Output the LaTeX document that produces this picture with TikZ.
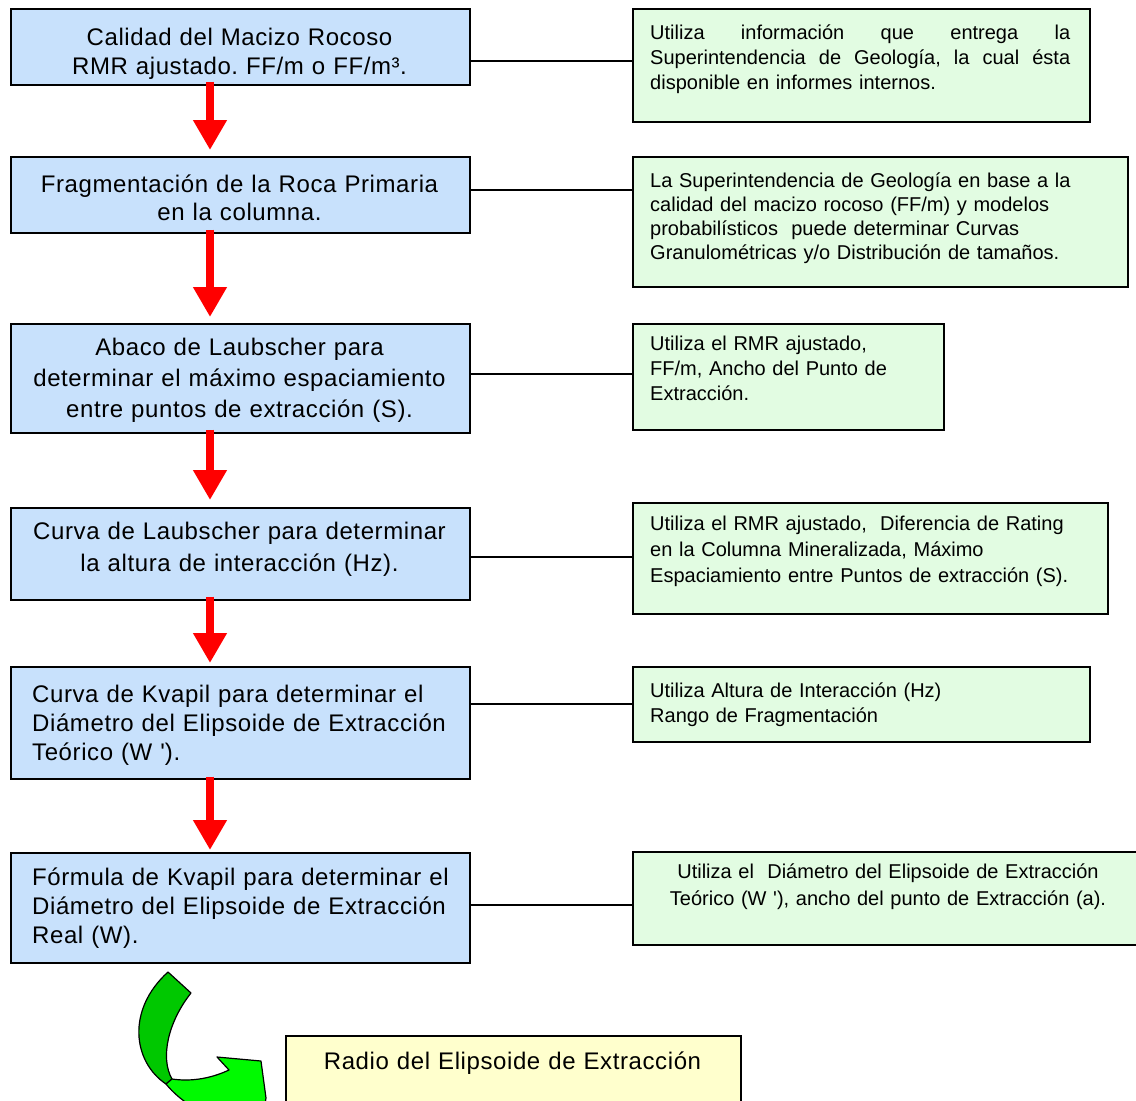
\documentclass[tikz,border=0pt]{standalone}
\usepackage{fontspec}
\setmainfont{Liberation Sans}
\usetikzlibrary{arrows.meta}
\definecolor{lblue}{RGB}{200,225,252}
\definecolor{lgreen}{RGB}{226,252,226}
\definecolor{lyellow}{RGB}{255,255,205}
\definecolor{dgreen}{RGB}{0,200,0}
\definecolor{bgreen}{RGB}{0,250,0}
\frenchspacing
\begin{document}
\frenchspacing
\begin{tikzpicture}[x=1pt,y=-1pt,
  lbox/.style={draw=black, line width=1.5pt, fill=lblue, anchor=north west, inner sep=0pt, minimum width=459pt},
  rbox/.style={draw=black, line width=1.5pt, fill=lgreen, anchor=north west, inner sep=0pt},
  ybox/.style={draw=black, line width=1.5pt, fill=lyellow, anchor=north west, inner sep=0pt},
  ltext/.style={inner sep=0pt, font=\fontsize{24}{#1}\selectfont\addfontfeature{LetterSpace=2.5}\frenchspacing},
  ltext/.default=29,
  rtext/.style={inner sep=0pt, font=\fontsize{20}{#1}\selectfont\frenchspacing, anchor=base west, align=left},
  rtext/.default=25,
  redarrow/.style={draw=red, line width=8pt, -{Triangle[width=32pt,length=30pt]}},
  link/.style={draw=black, line width=1.2pt}]
\useasboundingbox (0,0) rectangle (1136,1101);

% left boxes
\node[lbox, minimum height=76pt]  (L1) at (10,8) {};
\node[lbox, minimum height=76pt]  (L2) at (10,156) {};
\node[lbox, minimum height=109pt] (L3) at (10,323) {};
\node[lbox, minimum height=92pt]  (L4) at (10,507) {};
\node[lbox, minimum height=112pt] (L5) at (10,666) {};
\node[lbox, minimum height=110pt] (L6) at (10,852) {};

% right boxes
\node[rbox, minimum width=457pt, minimum height=113pt] (R1) at (632,8) {};
\node[rbox, minimum width=495pt, minimum height=130pt] (R2) at (632,156) {};
\node[rbox, minimum width=311pt, minimum height=106pt] (R3) at (632,323) {};
\node[rbox, minimum width=475pt, minimum height=111pt] (R4) at (632,502) {};
\node[rbox, minimum width=457pt, minimum height=75pt]  (R5) at (632,666) {};
\node[rbox, minimum width=520pt, minimum height=93pt]  (R6) at (632,851) {};

% yellow box
\node[ybox, minimum width=455pt, minimum height=100pt] (Y) at (285,1035) {};

% left texts
\node[ltext, text width=459pt, align=center, anchor=base] (T1) at (239.5,45)
  {Calidad del Macizo Rocoso\\RMR ajustado. FF/m o FF/m³.};
\node[ltext=28, text width=459pt, align=center, anchor=base] (T2) at (239.5,192)
  {Fragmentación de la Roca Primaria\\en la columna.};
\node[ltext=31, text width=459pt, align=center, anchor=base] (T3) at (239.5,355)
  {Abaco de Laubscher para\\determinar el máximo espaciamiento\\entre puntos de extracción (S).};
\node[ltext=32, text width=459pt, align=center, anchor=base] (T4) at (239.5,539)
  {Curva de Laubscher para determinar\\la altura de interacción (Hz).};
\node[ltext, text width=440pt, align=left, anchor=base west] (T5) at (32,702)
  {Curva de Kvapil para determinar el\\Diámetro del Elipsoide de Extracción\\Teórico (W \textquotesingle).};
\node[ltext, text width=440pt, align=left, anchor=base west] (T6) at (32,885)
  {Fórmula de Kvapil para determinar el\\Diámetro del Elipsoide de Extracción\\Real (W).};
\node[ltext, text width=455pt, align=center, anchor=base] (TY) at (512.5,1069)
  {Radio del Elipsoide de Extracción};

% right texts
\node[rtext, text width=420pt] (S1) at (650,39)
  {\makebox[420pt]{Utiliza\hfill información\hfill que\hfill entrega\hfill la}\\
   \makebox[420pt]{Superintendencia\hfill de\hfill Geología,\hfill la\hfill cual\hfill ésta}\\
   disponible en informes internos.};
\node[rtext=24, text width=470pt] (S2) at (650,187)
  {La Superintendencia de Geología en base a la\\calidad del macizo rocoso (FF/m) y modelos\\probabilísticos~ puede determinar Curvas\\Granulométricas y/o Distribución de tamaños.};
\node[rtext, text width=290pt] (S3) at (650,350)
  {Utiliza el RMR ajustado,\\FF/m, Ancho del Punto de\\Extracción.};
\node[rtext=26, text width=450pt] (S4) at (650,530)
  {Utiliza el RMR ajustado,~ Diferencia de Rating\\en la Columna Mineralizada, Máximo\\Espaciamiento entre Puntos de extracción (S).};
\node[rtext, text width=430pt] (S5) at (650,697)
  {Utiliza Altura de Interacción (Hz)\\Rango de Fragmentación};
\node[rtext=27, text width=500pt, align=center, anchor=base] (S6) at (888,878)
  {Utiliza el~ Diámetro del Elipsoide de Extracción\\Teórico (W \textquotesingle), ancho del punto de Extracción (a).};

% connector lines
\coordinate (y1) at (0,61);
\coordinate (y2) at (0,190);
\coordinate (y3) at (0,374);
\coordinate (y4) at (0,557);
\coordinate (y5) at (0,704);
\coordinate (y6) at (0,905);
\draw[link] (L1.east |- y1) -- (R1.west |- y1);
\draw[link] (L2.east |- y2) -- (R2.west |- y2);
\draw[link] (L3.east |- y3) -- (R3.west |- y3);
\draw[link] (L4.east |- y4) -- (R4.west |- y4);
\draw[link] (L5.east |- y5) -- (R5.west |- y5);
\draw[link] (L6.east |- y6) -- (R6.west |- y6);

% red arrows
\draw[redarrow] ([xshift=200pt,yshift=4pt]L1.south west) -- ([xshift=200pt,yshift=6pt]L2.north west);
\draw[redarrow] ([xshift=200pt,yshift=4pt]L2.south west) -- ([xshift=200pt,yshift=6pt]L3.north west);
\draw[redarrow] ([xshift=200pt,yshift=4pt]L3.south west) -- ([xshift=200pt,yshift=7pt]L4.north west);
\draw[redarrow] ([xshift=200pt,yshift=4pt]L4.south west) -- ([xshift=200pt,yshift=3pt]L5.north west);
\draw[redarrow] ([xshift=200pt,yshift=3pt]L5.south west) -- ([xshift=200pt,yshift=2pt]L6.north west);

% green curved block arrow
\filldraw[fill=dgreen, draw=black, line width=1.2pt, line join=round]
  (168,972) -- (191,993) .. controls (168,1022) and (160,1058) .. (172,1079)
  -- (166,1084) .. controls (133,1062) and (126,1010) .. cycle;
\filldraw[fill=bgreen, draw=black, line width=1.2pt, line join=round]
  (166,1084) .. controls (175,1095) and (190,1108) .. (215,1118)
  -- (262,1125) -- (266,1098) -- (261,1061) -- (217,1057) -- (229,1070)
  .. controls (212,1078) and (192,1082) .. (172,1079) -- cycle;
\end{tikzpicture}
\end{document}
